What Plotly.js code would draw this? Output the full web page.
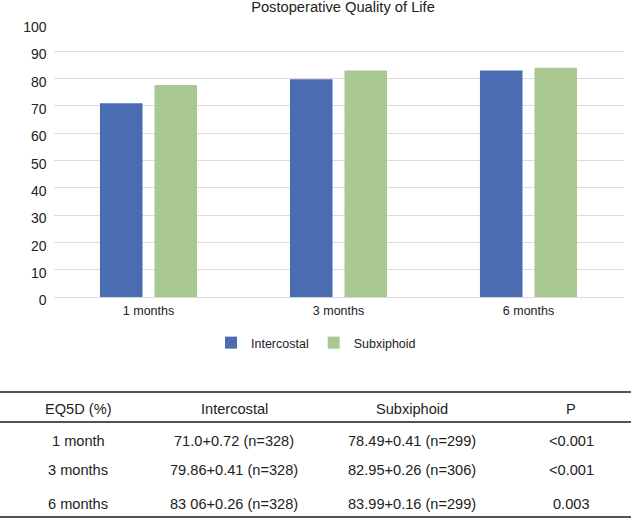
<!DOCTYPE html>
<html>
<head>
<meta charset="utf-8">
<script src="https://cdn.plot.ly/plotly-3.0.1.min.js"></script>
<style>
  body { margin: 0; background: #fff; }
  #chart { width: 631px; height: 520px; }
</style>
</head>
<body>
<div id="chart"></div>
<script>
// bar chart data
var categories = ['1 months', '3 months', '6 months'];
var intercostal = [71.0, 79.8, 83.0];
var subxiphoid = [77.7, 83.0, 84.0];

// table under the chart
var tableHeader = ['EQ5D (%)', 'Intercostal', 'Subxiphoid', 'P'];
var tableTimes = ['1 month', '3 months', '6 months'];
var tableIntercostal = ['71.0+0.72 (n=328)', '79.86+0.41 (n=328)', '83 06+0.26 (n=328)'];
var tableSubxiphoid = ['78.49+0.41 (n=299)', '82.95+0.26 (n=306)', '83.99+0.16 (n=299)'];
var tablePValues = ['<0.001', '<0.001', '0.003'];

var W = 631, H = 520;
function px(x) { return x / W; }
function py(y) { return 1 - y / H; }

var FONT = 'Liberation Sans, Arial, sans-serif';
var TXT = '#222222';

var data = [
    {
        x: categories,
        y: intercostal,
        name: 'Intercostal',
        type: 'bar',
        marker: {color: '#4a6cb1'},
        hoverinfo: 'skip'
    },
    {
        x: categories,
        y: subxiphoid,
        name: 'Subxiphoid',
        type: 'bar',
        marker: {color: '#aac891'},
        hoverinfo: 'skip'
    }
];

// table text + rules
var colX = [78, 234, 412, 571];
var rowY = [441, 470, 504];
var annotations = [];
var shapes = [];
for (var c = 0; c < tableHeader.length; c++) {
    annotations.push({
        text: tableHeader[c], x: px(colX[c]), y: py(409),
        xref: 'paper', yref: 'paper', showarrow: false,
        xanchor: 'center', yanchor: 'middle',
        font: {family: FONT, size: 14.6, color: TXT}
    });
}
var columns = [tableTimes, tableIntercostal, tableSubxiphoid, tablePValues];
for (var r = 0; r < tableTimes.length; r++) {
    for (var k = 0; k < columns.length; k++) {
        annotations.push({
            text: columns[k][r].replace('<', '&lt;'), x: px(colX[k]), y: py(rowY[r]),
            xref: 'paper', yref: 'paper', showarrow: false,
            xanchor: 'center', yanchor: 'middle',
            font: {family: FONT, size: 14.6, color: TXT}
        });
    }
}
var rules = [392, 422, 517];
for (var i = 0; i < rules.length; i++) {
    shapes.push({
        type: 'line', xref: 'paper', yref: 'paper',
        x0: 0, x1: 1, y0: py(rules[i]), y1: py(rules[i]),
        line: {color: '#1a1a1a', width: 1.3}
    });
}

var layout = {
    width: W,
    height: H,
    margin: {l: 0, r: 0, t: 0, b: 0},
    paper_bgcolor: '#fff',
    plot_bgcolor: '#fff',
    font: {family: FONT, color: TXT},
    title: {
        text: 'Postoperative Quality of Life',
        xref: 'paper', yref: 'paper',
        x: px(343), xanchor: 'center',
        y: py(7), yanchor: 'middle',
        font: {family: FONT, size: 14.7, color: TXT}
    },
    barmode: 'group',
    bargap: 0.426,
    bargroupgap: 0.22,
    xaxis: {
        domain: [px(53.5), px(623.5)],
        showgrid: false,
        showline: false,
        ticks: '',
        ticklabelstandoff: 4,
        tickfont: {family: FONT, size: 12.5, color: TXT},
        fixedrange: true
    },
    yaxis: {
        domain: [py(297.3), py(24)],
        range: [0, 100],
        dtick: 10,
        showgrid: true,
        gridcolor: '#dcdcdc',
        gridwidth: 1,
        zeroline: true,
        zerolinecolor: '#dcdcdc',
        zerolinewidth: 1,
        showline: false,
        ticks: '',
        ticklabelstandoff: 6,
        ticklabelshift: 3,
        tickfont: {family: FONT, size: 14, color: TXT},
        fixedrange: true
    },
    showlegend: true,
    legend: {
        orientation: 'h',
        x: px(316), xanchor: 'center',
        y: py(343), yanchor: 'middle',
        font: {family: FONT, size: 12.5, color: TXT},
        itemwidth: 30
    },
    annotations: annotations,
    shapes: shapes
};

Plotly.newPlot('chart', data, layout, {displayModeBar: false, staticPlot: true});
</script>
</body>
</html>
